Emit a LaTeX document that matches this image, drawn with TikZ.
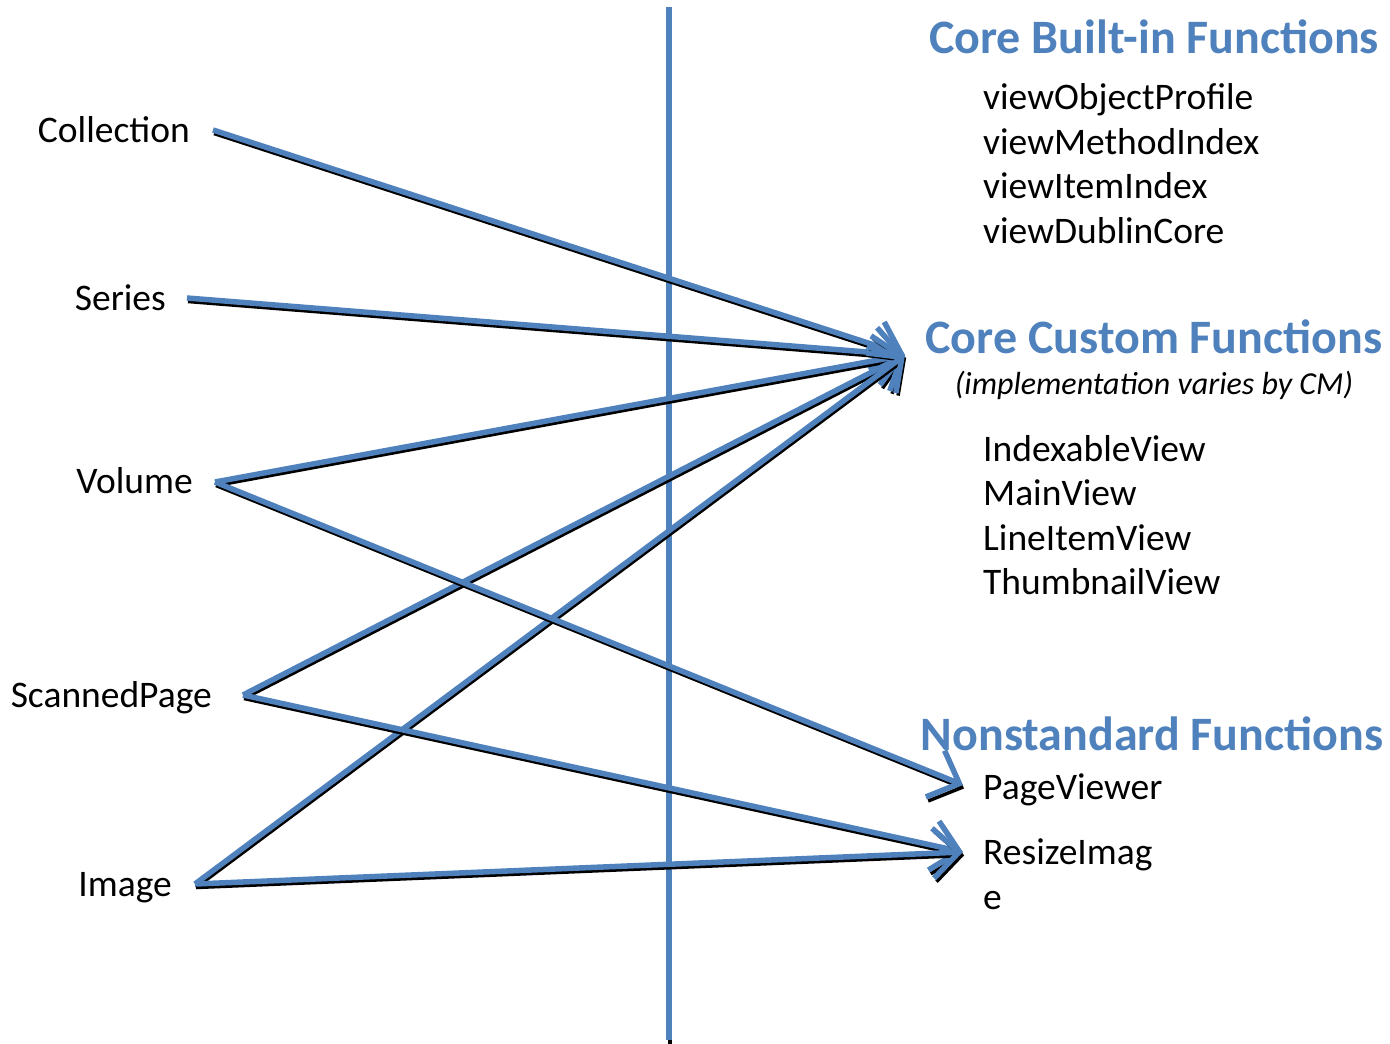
\documentclass[tikz,border=0pt]{standalone}
\usepackage{fontspec}
\setmainfont{Carlito}
\usetikzlibrary{arrows.meta}
\definecolor{officeblue}{HTML}{4F81BD}
\tikzset{
	link/.style={draw=officeblue, line width=5.5pt, line join=round,
		preaction={draw=black, line width=3.5pt, transform canvas={shift={(1pt,-3.5pt)}}}},
	tip/.style={-{Straight Barb[length=26pt,width=50pt]}},
	item/.style={inner sep=0pt, anchor=base west, font=\fontsize{37.5}{45}\selectfont},
	heading/.style={inner sep=0pt, anchor=base, text=officeblue, font=\fontsize{48}{56}\selectfont\bfseries},
}
\begin{document}
\begin{tikzpicture}[x=1pt, y=-1pt]
	\useasboundingbox (0,0) rectangle (1390,1044);
	
	\node (Coll) at (190,142) [item, anchor=base east] {Collection};
	\node (Ser) at (166,310) [item, anchor=base east] {Series};
	\node (Vol) at (193,493) [item, anchor=base east] {Volume};
	\node (Scan) at (212,707) [item, anchor=base east] {ScannedPage};
	\node (Img) at (172,896) [item, anchor=base east] {Image};
	
	\node (Built) at (1154,53) [heading] {Core Built-in Functions};
	\node (B1) at (983,109) [item] {viewObjectProfile};
	\node (B2) at (983,154) [item] {viewMethodIndex};
	\node (B3) at (983,198) [item] {viewItemIndex};
	\node (B4) at (983,243) [item] {viewDublinCore};
	
	\node (Custom) at (1154,353) [heading] {Core Custom Functions};
	\node (Note) at (1154,394) [inner sep=0pt, anchor=base, font=\fontsize{32}{38}\selectfont\itshape] {(implementation varies by CM)};
	\node (C1) at (983,461) [item] {IndexableView};
	\node (C2) at (983,505) [item] {MainView};
	\node (C3) at (983,550) [item] {LineItemView};
	\node (C4) at (983,594) [item] {ThumbnailView};
	
	\node (Nonstd) at (1152,750) [heading] {Nonstandard Functions};
	\node (N1) at (983,799) [item] {PageViewer};
	\node (N2) at (983,864) [item] {ResizeImag};
	\node (N3) at (983,909) [item] {e};
	
	\coordinate (Ctip) at (905,355);
	\coordinate (Ptip) at (963,785);
	\coordinate (Rtip) at (963,852);
	\coordinate (top) at (669,7);
	\coordinate (bottom) at (669,1040);
	
	\draw [link] (top) -- (bottom);
	
	\draw [link, tip] ([xshift=23,yshift=12]Coll.base east) -- (Ctip);
	\draw [link, tip] ([xshift=21,yshift=12]Ser.base east) -- (Ctip);
	\draw [link, tip] ([xshift=22,yshift=11]Vol.base east) -- (Ctip);
	\draw [link, tip] ([xshift=31,yshift=12]Scan.base east) -- (Ctip);
	\draw [link, tip] ([xshift=23,yshift=12]Img.base east) -- (Ctip);
	\draw [link, tip] ([xshift=22,yshift=11]Vol.base east) -- (Ptip);
	\draw [link, tip] ([xshift=31,yshift=12]Scan.base east) -- (Rtip);
	\draw [link, tip] ([xshift=23,yshift=12]Img.base east) -- (Rtip);
\end{tikzpicture}
\end{document}
